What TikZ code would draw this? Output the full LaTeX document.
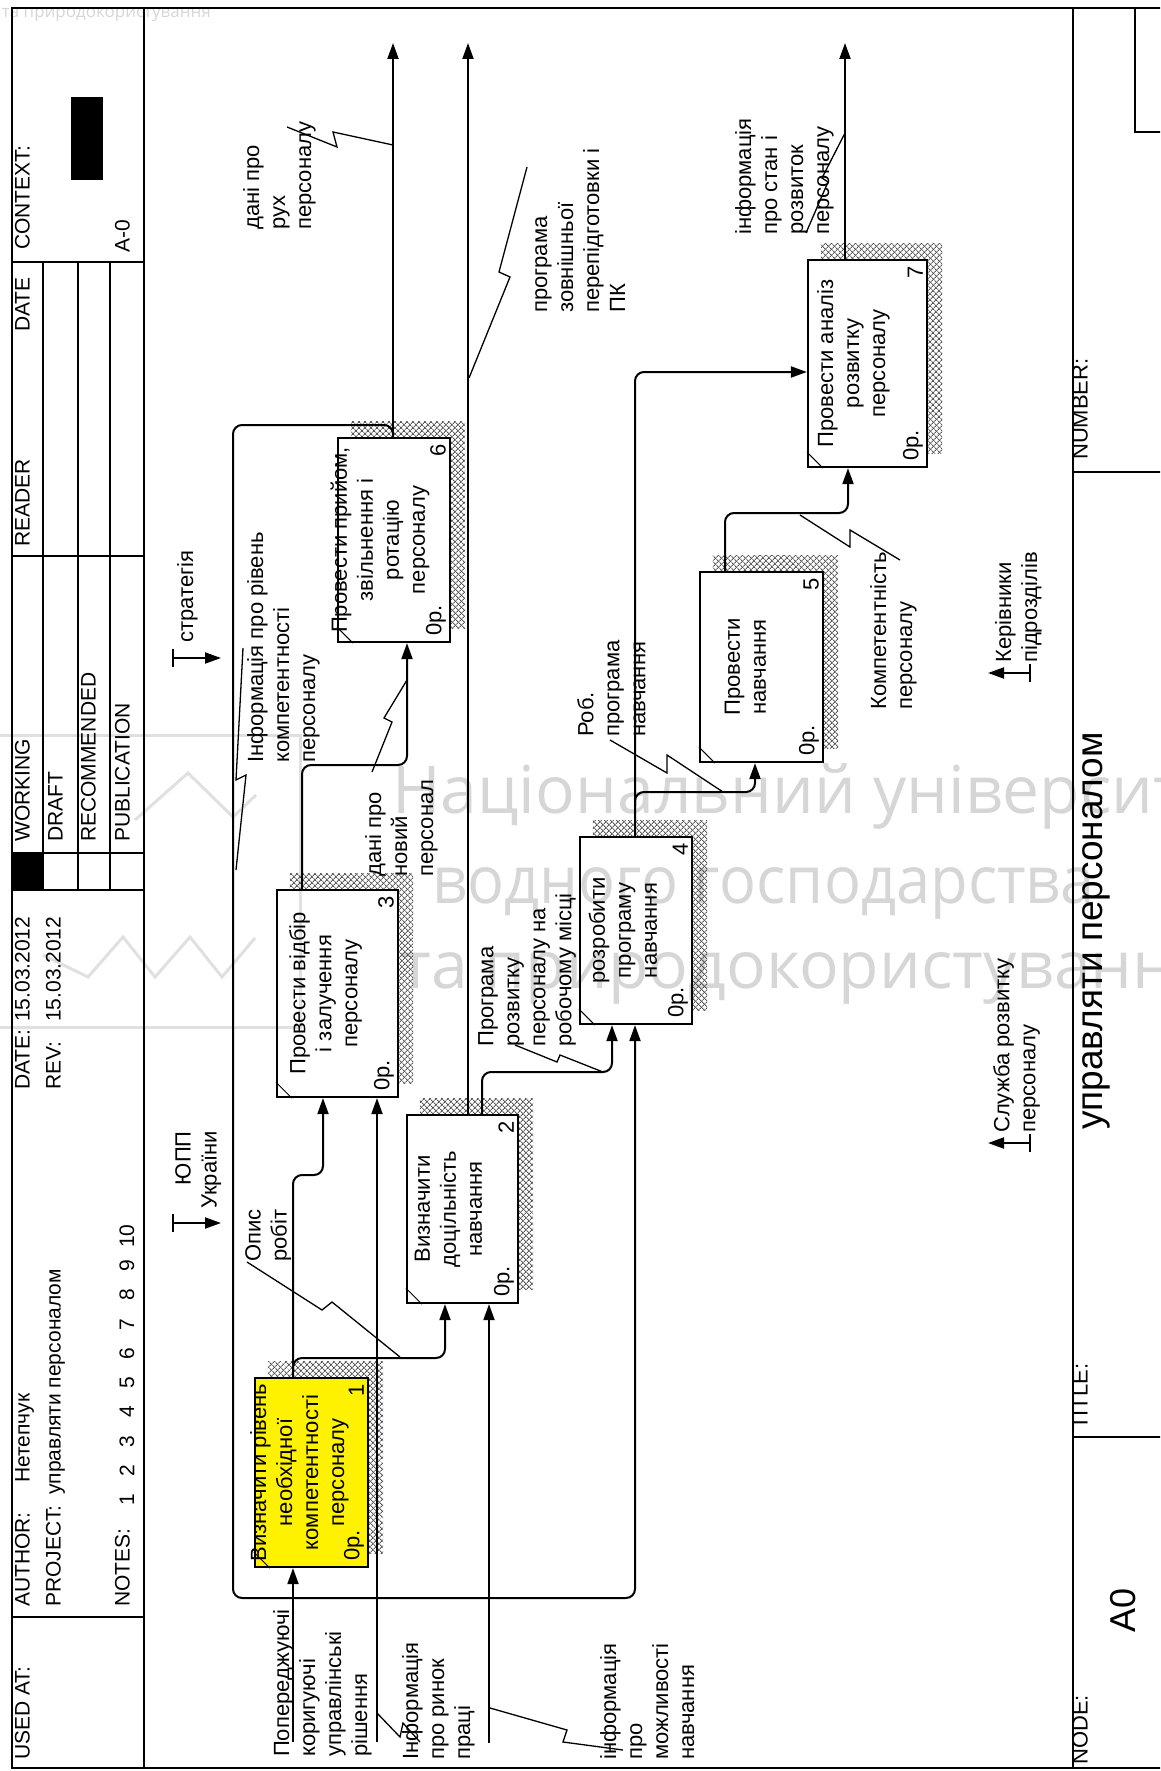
\documentclass[tikz,border=0pt]{standalone}
\usepackage{fontspec}
\setmainfont{Liberation Sans}
\newfontfamily\wmfont{Open Sans}
\usetikzlibrary{arrows.meta,patterns.meta,backgrounds}
\newcommand{\lbl}{\fontsize{22}{26}\selectfont}
\newcommand{\hdf}{\fontsize{21}{25}\selectfont}
\newcommand{\ttl}{\fontsize{37}{44}\selectfont}
% hatched shadow behind a function box
\newcommand{\boxshade}[1]{%
  \fill[pattern={Lines[angle=45,distance=4pt,line width=0.9pt]},pattern color=black!65]
    ([shift={(14pt,15pt)}]#1.north west) rectangle ([shift={(14pt,15pt)}]#1.south east);
  \fill[pattern={Lines[angle=-45,distance=4pt,line width=0.9pt]},pattern color=black!65]
    ([shift={(14pt,15pt)}]#1.north west) rectangle ([shift={(14pt,15pt)}]#1.south east);}
\tikzset{
  frm/.style   = {line width=2.4pt},
  wire/.style  = {line width=2pt, rounded corners=9pt},
  arr/.style   = {wire, -{Triangle[length=16pt,width=11pt]}},
  squig/.style = {line width=1.3pt},
  proc/.style  = {draw, line width=2.2pt, fill=white, rotate=90, inner sep=0pt},
  btxt/.style  = {rotate=90, align=center, inner sep=0pt, font=\lbl},
  lab/.style   = {rotate=90, anchor=north west, align=left, inner sep=0pt, font=\lbl},
  hd/.style    = {rotate=90, anchor=mid west, inner sep=0pt, font=\hdf},
  num/.style   = {rotate=90, inner xsep=7pt, inner ysep=5pt, font=\lbl},
  wm/.style    = {font=\wmfont\fontsize{66}{70}\selectfont, text=black, text opacity=0.16, inner sep=0pt},
  wmline/.style= {line width=3pt, draw=black, draw opacity=0.12},
}

\begin{document}
\begin{tikzpicture}[x=1pt,y=-1pt]
  \useasboundingbox (0,0) rectangle (1160,1771);
  \clip (0,0) rectangle (1160,1771);

  % form frame
  \draw[frm] (1175,8) -- (12,8) -- (12,1768) -- (1175,1768);
  \draw[frm] (144,8) -- (144,1768);
  \draw[frm] (1073,8) -- (1073,1768);
  \foreach \y in {262,556,853,890,1617}
    \draw[frm] (12,\y) -- (144,\y);
  \foreach \x in {43,78,110}
    \draw[frm] (\x,262) -- (\x,890);
  \fill (12,853) rectangle (43,890);
  \fill (71,97) rectangle (103,180);
  \draw[frm] (1073,472) -- (1175,472);
  \draw[frm] (1073,1437) -- (1175,1437);
  \draw[frm] (1135,8) -- (1135,132) -- (1175,132);

  % header texts
  \node[hd] (hcx) at (27,250) {CONTEXT:};
  \node[hd] (ha0) at (127,253) {A-0};
  \node[hd] (hdt) at (27,332) {DATE};
  \node[hd] (hrd) at (27,547) {READER};
  \node[hd] (hwk) at (27,842) {WORKING};
  \node[hd] (hdr) at (60,842) {DRAFT};
  \node[hd] (hrc) at (93,842) {RECOMMENDED};
  \node[hd] (hpb) at (127,842) {PUBLICATION};
  \node[hd] (hda) at (27,1090) {DATE:};
  \node[hd] (hdv) at (27,1022) {15.03.2012};
  \node[hd] (hrv) at (58,1090) {REV:};
  \node[hd] (hrvv) at (58,1022) {15.03.2012};
  \node[hd] (hau) at (27,1607) {AUTHOR:};
  \node[hd] (hauv) at (27,1483) {Нетепчук};
  \node[hd] (hpr) at (58,1607) {PROJECT:};
  \node[hd] (hprv) at (58,1495) {управляти персоналом};
  \node[hd] (hnt) at (127,1607) {NOTES:};
  \foreach \i in {1,...,10}
    \node[rotate=90, inner sep=0pt, font=\hdf] (nt\i) at (127,1500-29.3*\i+29.3) {\i};
  \node[hd] (hus) at (27,1760) {USED AT:};
  \node[hd, font=\lbl] (hnb) at (1085,460) {NUMBER:};
  \node[hd, font=\lbl] (hti) at (1085,1430) {TITLE:};
  \node[hd, font=\lbl] (hno) at (1085,1765) {NODE:};
  \node[hd, font=\ttl] (title) at (1100,1130) {управляти персоналом};
  \node[hd, font=\fontsize{36}{40}\selectfont] (node) at (1133,1633) {A0};

  % function boxes
  \node[proc, fill=yellow, minimum width=189pt, minimum height=113pt] (b1) at (311.5,1472.5) {};
  \node[proc, minimum width=188pt, minimum height=111pt] (b2) at (462.5,1209) {};
  \node[proc, minimum width=207pt, minimum height=121pt] (b3) at (337.5,993.5) {};
  \node[proc, minimum width=187pt, minimum height=112pt] (b4) at (636,930.5) {};
  \node[proc, minimum width=190pt, minimum height=123pt] (b5) at (761.5,667) {};
  \node[proc, minimum width=204pt, minimum height=112pt] (b6) at (394,540) {};
  \node[proc, minimum width=207pt, minimum height=119pt] (b7) at (867.5,363.5) {};
  \begin{scope}[on background layer]
    \foreach \b in {b1,b2,b3,b4,b5,b6,b7} {\boxshade{\b}}
  \end{scope}
  \foreach \n in {1,...,7} {
    \node[num, anchor=south east] (n\n) at (b\n.south east) {\n};
    \node[num, anchor=south west] (z\n) at (b\n.south west) {0р.};
    \draw[line width=1pt] ([yshift=16pt]b\n.north west) -- ([xshift=16pt]b\n.north west);
  }
  \node[btxt] (t1) at ([xshift=-12pt]b1.center) {Визначити рівень\\необхідної\\компетентності\\персоналу};
  \node[btxt] (t2) at ([xshift=-14pt]b2.center) {Визначити\\доцільність\\навчання};
  \node[btxt] (t3) at ([xshift=-12pt]b3.center) {Провести відбір\\і залучення\\персоналу};
  \node[btxt] (t4) at ([xshift=-13pt]b4.center) {розробити\\програму\\навчання};
  \node[btxt] (t5) at ([xshift=-16pt]b5.center) {Провести\\навчання};
  \node[btxt] (t6) at ([xshift=-14pt]b6.center) {Провести прийом,\\звільнення і\\ротацію\\персоналу};
  \node[btxt] (t7) at ([xshift=-14pt]b7.center) {Провести аналіз\\розвитку\\персоналу};

  % boundary ends
  \coordinate (i1) at (293,1742);
  \coordinate (i3) at (377,1742);
  \coordinate (i2) at (489,1743);
  \coordinate (o6) at (393,43);
  \coordinate (o2) at (468,43);
  \coordinate (o7) at (845,43);

  % arrows
  \draw[arr] (i1) -- (i1 |- b1.west);
  \draw[arr] (i3) -- (i3 |- b3.west);
  \draw[arr] (i2) -- (i2 |- b2.west);
  \draw[arr] (293,0 |- b1.east) -- (293,1175) -- (323,1175) -- (323,0 |- b3.west);
  \draw[arr] (293,1372) -- (293,1358) -- (445,1358) -- (445,0 |- b2.west);
  \draw[arr] (468,0 |- b2.east) -- (o2);
  \draw[arr] (482,0 |- b2.east) -- (482,1072) -- (612,1072) -- (612,0 |- b4.west);
  \draw[arr] (302,0 |- b3.east) -- (302,765) -- (407,765) -- (407,0 |- b6.west);
  \draw[arr] (393,0 |- b6.east) -- (o6);
  \draw[arr] (393,438) -- (393,425) -- (233,425) -- (233,1598) -- (635,1598) -- (635,0 |- b4.west);
  \draw[arr] (635,0 |- b4.east) -- (635,372) -- (b7.north |- 0,372);
  \draw[arr] (635,806) -- (635,792) -- (755,792) -- (755,0 |- b5.west);
  \draw[arr] (725,0 |- b5.east) -- (725,513) -- (848,513) -- (848,0 |- b7.west);
  \draw[arr] (845,0 |- b7.east) -- (o7);

  % arrow labels
  \node[lab] (l1) at (243,230) {дані про\\рух\\персоналу};
  \node[lab] (l2) at (535,313) {програма\\зовнішньої\\перепідготовки і\\ПК};
  \node[lab] (l3) at (735,235) {інформація\\про стан і\\розвиток\\персоналу};
  \node[lab] (l4) at (247,763) {Інформація про рівень\\компетентності\\персоналу};
  \node[lab] (l5) at (177,643) {стратегія};
  \node[lab, anchor=north east, align=right] (l6) at (175,1131) {ЮПП\\України};
  \node[lab] (l7) at (245,1262) {Опис\\робіт};
  \node[lab] (l8) at (365,877) {дані про\\новий\\персонал};
  \node[lab] (l9) at (478,1047) {Програма\\розвитку\\персоналу на\\робочому місці};
  \node[lab] (l10) at (577,737) {Роб.\\програма\\навчання};
  \node[lab] (l11) at (870,710) {Компетентність\\персоналу};
  \node[lab] (l12) at (995,663) {Керівники\\підрозділів};
  \node[lab] (l13) at (993,1133) {Служба розвитку\\персоналу};
  \node[lab] (l14) at (273,1757) {Попереджуючі\\коригуючі\\управлінські\\рішення};
  \node[lab] (l15) at (402,1760) {Інформація\\про ринок\\праці};
  \node[lab] (l16) at (600,1760) {інформація\\про\\можливості\\навчання};

  % squiggles
  \draw[squig] (287,127) -- (337,147) -- (333,132) -- (393,145);
  \draw[squig] (527,167) -- (499,272) -- (510,277) -- (469,378);
  \draw[squig] (806,233) -- (828,182) -- (822,178) -- (845,133);
  \draw[squig] (243,648) -- (236,780) -- (246,775) -- (236,870);
  \draw[squig] (372,772) -- (392,722) -- (384,718) -- (407,680);
  \draw[squig] (247,1262) -- (322,1310) -- (332,1302) -- (400,1357);
  \draw[squig] (515,1045) -- (557,1062) -- (560,1055) -- (603,1072);
  \draw[squig] (610,740) -- (667,773) -- (667,755) -- (723,792);
  \draw[squig] (800,515) -- (850,547) -- (850,530) -- (900,560);
  \draw[squig] (377,1713) -- (400,1737) -- (403,1723) -- (420,1742);
  \draw[squig] (490,1708) -- (567,1730) -- (563,1742) -- (623,1750);

  % tunnel stubs
  \coordinate (s1) at (173,658);
  \coordinate (s2) at (173,1223);
  \coordinate (s3) at (1030,673);
  \coordinate (s4) at (1030,1143);
  \foreach \s/\d in {s1/48,s2/48,s3/-42,s4/-42} {
    \draw[wire] ([yshift=9pt]\s) -- ([yshift=-9pt]\s);
    \draw[arr] (\s) -- ++(\d,0);
  }

  % watermark
  \draw[wmline] (0,735) -- (300,735) -- (300,1027) -- (0,1027);
  \draw[wmline] (135,820) -- (188,773) -- (233,817) -- (256,795);
  \draw[wmline] (43,955) -- (88,977) -- (123,937) -- (155,977) -- (190,937) -- (222,977) -- (255,938);
  \node[wm, anchor=base west] (w1) at (392,813) {Національний університет};
  \node[wm, anchor=base west, xscale=0.93] (w2) at (432,903) {водного господарства};
  \node[wm, anchor=base west] (w3) at (400,988) {та природокористування};
  \node[wm, anchor=base east, font=\wmfont\fontsize{17}{20}\selectfont] (w4) at (211,18) {та природокористування};
\end{tikzpicture}
\end{document}
